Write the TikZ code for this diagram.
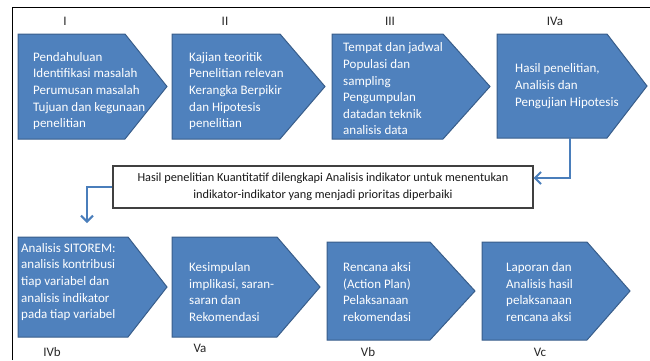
\documentclass[tikz,border=0pt]{standalone}
\usepackage{fontspec}
\setmainfont{Carlito}
\usetikzlibrary{arrows.meta}
\definecolor{shpfill}{HTML}{4F81BD}
\definecolor{shpline}{HTML}{385D8A}
\definecolor{connc}{HTML}{4A7EBB}
\definecolor{lblc}{HTML}{262626}
\tikzset{
  shp/.style={fill=shpfill, draw=shpline, line width=1pt, line join=miter},
  txt/.style={text=white, font=\fontsize{13}{16.6}\selectfont, align=left, anchor=west, inner sep=0pt},
  lbl/.style={text=lblc, font=\fontsize{13}{15}\selectfont, inner sep=0pt},
  conn/.style={draw=connc, line width=2pt, -{Straight Barb[length=6pt,width=12pt,line width=2pt]}},
  frame/.style={draw=black, line width=1pt},
  note/.style={draw=black!75, line width=1.2pt, fill=white, minimum width=420pt, minimum height=42pt, inner sep=0pt, align=center, text=black!90, font=\fontsize{12.3}{17}\selectfont}
}
\newcommand\chevr[6]{%
  \draw[shp] (#2,#3) -- (#6,#3) -- (#4,{(#3+#5)/2}) -- (#6,#5) -- (#2,#5) -- cycle;
  \coordinate (#1) at ({(#2+#4)/2},{(#3+#5)/2});
}
\begin{document}
\begin{tikzpicture}[x=1pt,y=-1pt]
\useasboundingbox (0,0) rectangle (650,360);
% frame
\coordinate (fr-a) at (12,360);
\coordinate (fr-b) at (12,7);
\coordinate (fr-c) at (650,7);
\draw[frame] (fr-a) -- (fr-b) -- (fr-c);
% top row
\chevr{s1}{18}{34}{167}{139}{125}
\chevr{s2}{172}{34}{325}{139}{280}
\chevr{s3}{332}{34}{490}{139}{443}
\chevr{s4a}{497}{34}{647}{138}{607}
% bottom row
\chevr{s4b}{18}{237}{167}{337}{128}
\chevr{s5a}{172}{237}{320}{337}{277}
\chevr{s5b}{327}{242}{475}{340}{430}
\chevr{s5c}{482}{242}{630}{340}{587}
% texts top
\node[txt] (t1) at (33,91) {Pendahuluan\\Identifikasi masalah\\Perumusan masalah\\Tujuan dan kegunaan\\penelitian};
\node[txt] (t2) at (189,91) {Kajian teoritik\\Penelitian relevan\\Kerangka Berpikir\\dan Hipotesis\\penelitian};
\node[txt] (t3) at (343,89) {Tempat dan jadwal\\Populasi dan\\sampling\\Pengumpulan\\datadan teknik\\analisis data};
\node[txt] (t4a) at (515,86) {Hasil penelitian,\\Analisis dan\\Pengujian Hipotesis};
% texts bottom
\node[txt] (t4b) at (21,282) {Analisis SITOREM:\\analisis kontribusi\\tiap variabel dan\\analisis indikator\\pada tiap variabel};
\node[txt] (t5a) at (189,292) {Kesimpulan\\implikasi, saran-\\saran dan\\Rekomendasi};
\node[txt] (t5b) at (343,292) {Rencana aksi\\(Action Plan)\\Pelaksanaan\\rekomendasi};
\node[txt] (t5c) at (506,292) {Laporan dan\\Analisis hasil\\pelaksanaan\\rencana aksi};
% labels
\node[lbl] (l1) at (65,21) {I};
\node[lbl] (l2) at (225,21) {II};
\node[lbl] (l3) at (390,21) {III};
\node[lbl] (l4a) at (555,21) {IVa};
\node[lbl] (l4b) at (52,352) {IVb};
\node[lbl] (l5a) at (200,348) {Va};
\node[lbl] (l5b) at (368,352) {Vb};
\node[lbl] (l5c) at (540,352) {Vc};
% note box
\node[note] (box) at (323,187) {Hasil penelitian Kuantitatif dilengkapi Analisis indikator untuk menentukan\\indikator-indikator yang menjadi prioritas diperbaiki};
% connectors
\coordinate (s4a-out) at (570,138);
\coordinate (s4b-in) at (87,223);
\draw[conn] (s4a-out) |- ([yshift=9pt]box.east);
\draw[conn] (box.west) -| (s4b-in);
\end{tikzpicture}
\end{document}
